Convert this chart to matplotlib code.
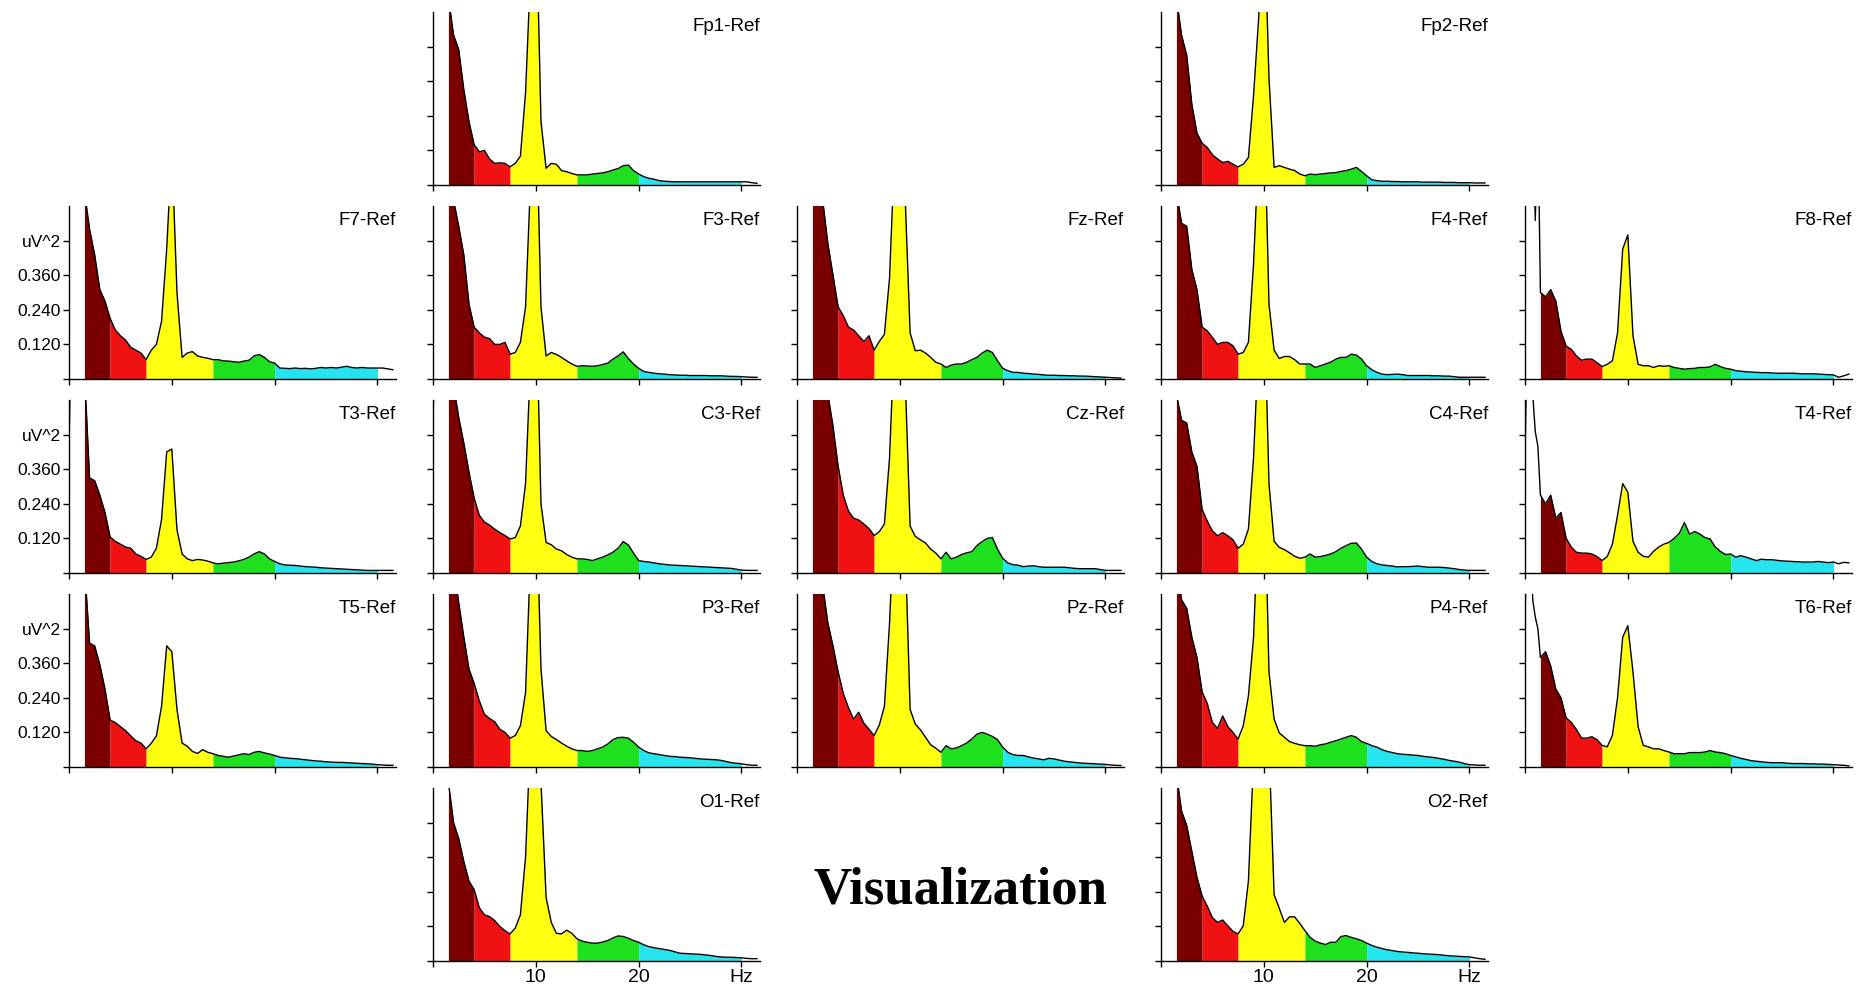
import numpy as np
import matplotlib
matplotlib.use('Agg')
import matplotlib.pyplot as plt

# espectros de potencia (uV^2), de 1.5 a 31.5 Hz em passos de 0.5 Hz
freqs = np.arange(1.5, 31.51, 0.5)
# trecho abaixo de 1.5 Hz (0, 0.25, ... 1.25 Hz); 0.9 = fora da escala
freqsIni = [0.0, 0.25, 0.5, 0.75, 1.0, 1.25]

Fp1 = [0.65, 0.52, 0.47, 0.33, 0.22, 0.14, 0.115, 0.12, 0.09, 0.075,
       0.077, 0.075, 0.063, 0.075, 0.10, 0.32, 0.75, 1.0, 0.22, 0.058,
       0.075, 0.072, 0.05, 0.046, 0.04, 0.035, 0.035, 0.035, 0.038, 0.04,
       0.042, 0.046, 0.052, 0.057, 0.067, 0.069, 0.05, 0.038, 0.029, 0.023,
       0.02, 0.015, 0.013, 0.012, 0.011, 0.011, 0.011, 0.011, 0.011, 0.011,
       0.011, 0.011, 0.011, 0.011, 0.011, 0.011, 0.011, 0.011, 0.011, 0.008,
       0.006]
Fp2 = [0.65, 0.52, 0.45, 0.28, 0.18, 0.145, 0.13, 0.105, 0.09, 0.078,
       0.082, 0.072, 0.063, 0.072, 0.095, 0.31, 0.58, 1.0, 0.37, 0.061,
       0.067, 0.061, 0.055, 0.05, 0.038, 0.032, 0.038, 0.036, 0.038, 0.04,
       0.042, 0.043, 0.047, 0.05, 0.055, 0.061, 0.047, 0.032, 0.018, 0.015,
       0.013, 0.013, 0.012, 0.012, 0.011, 0.011, 0.011, 0.011, 0.01, 0.01,
       0.01, 0.01, 0.009, 0.009, 0.009, 0.008, 0.008, 0.008, 0.007, 0.007,
       0.007]
F7 = [0.65, 0.52, 0.43, 0.31, 0.27, 0.21, 0.17, 0.15, 0.135, 0.11,
      0.10, 0.09, 0.067, 0.10, 0.12, 0.20, 0.45, 0.8, 0.30, 0.075,
      0.09, 0.095, 0.08, 0.075, 0.072, 0.067, 0.067, 0.063, 0.062, 0.06,
      0.058, 0.062, 0.065, 0.08, 0.085, 0.075, 0.06, 0.055, 0.038, 0.037,
      0.036, 0.038, 0.036, 0.037, 0.035, 0.037, 0.04, 0.038, 0.04, 0.038,
      0.041, 0.044, 0.04, 0.038, 0.04, 0.038, 0.038, 0.038, 0.038, 0.035,
      0.032]
F3 = [0.65, 0.62, 0.53, 0.43, 0.26, 0.18, 0.16, 0.145, 0.14, 0.12,
      0.12, 0.127, 0.086, 0.092, 0.127, 0.25, 0.7, 1.0, 0.25, 0.08,
      0.092, 0.085, 0.075, 0.063, 0.052, 0.044, 0.046, 0.045, 0.044, 0.046,
      0.05, 0.055, 0.069, 0.08, 0.094, 0.071, 0.052, 0.037, 0.026, 0.023,
      0.02, 0.018, 0.017, 0.015, 0.014, 0.013, 0.013, 0.012, 0.012, 0.012,
      0.012, 0.011, 0.011, 0.011, 0.01, 0.009, 0.009, 0.008, 0.007, 0.006,
      0.006]
Fz = [0.65, 0.7, 0.62, 0.47, 0.36, 0.25, 0.22, 0.18, 0.17, 0.15,
      0.13, 0.15, 0.10, 0.13, 0.155, 0.35, 0.8, 1.0, 0.65, 0.16,
      0.098, 0.10, 0.09, 0.075, 0.058, 0.052, 0.04, 0.048, 0.052, 0.052,
      0.058, 0.067, 0.075, 0.09, 0.10, 0.092, 0.063, 0.037, 0.029, 0.023,
      0.023, 0.02, 0.019, 0.017, 0.016, 0.014, 0.013, 0.013, 0.012, 0.012,
      0.011, 0.011, 0.01, 0.01, 0.009, 0.008, 0.007, 0.006, 0.005, 0.004,
      0.003]
F4 = [0.65, 0.54, 0.53, 0.38, 0.31, 0.18, 0.167, 0.144, 0.12, 0.127,
      0.127, 0.115, 0.086, 0.092, 0.127, 0.40, 0.8, 1.0, 0.26, 0.10,
      0.071, 0.078, 0.078, 0.067, 0.052, 0.052, 0.052, 0.04, 0.046, 0.052,
      0.058, 0.069, 0.075, 0.075, 0.086, 0.083, 0.069, 0.046, 0.032, 0.023,
      0.017, 0.015, 0.016, 0.017, 0.015, 0.012, 0.012, 0.012, 0.012, 0.012,
      0.011, 0.011, 0.01, 0.01, 0.008, 0.006, 0.006, 0.006, 0.006, 0.006,
      0.006]
F8 = [0.30, 0.285, 0.31, 0.27, 0.166, 0.114, 0.103, 0.08, 0.065, 0.069,
      0.069, 0.057, 0.043, 0.051, 0.063, 0.16, 0.45, 0.50, 0.15, 0.051,
      0.046, 0.046, 0.04, 0.046, 0.044, 0.046, 0.04, 0.037, 0.034, 0.036,
      0.037, 0.04, 0.04, 0.042, 0.051, 0.043, 0.037, 0.034, 0.029, 0.027,
      0.025, 0.024, 0.023, 0.022, 0.022, 0.021, 0.02, 0.02, 0.02, 0.02,
      0.019, 0.018, 0.018, 0.018, 0.017, 0.016, 0.015, 0.014, 0.006, 0.011,
      0.017]
T3 = [0.7, 0.33, 0.32, 0.27, 0.21, 0.125, 0.11, 0.10, 0.09, 0.086,
      0.066, 0.058, 0.047, 0.055, 0.086, 0.186, 0.42, 0.43, 0.15, 0.066,
      0.049, 0.043, 0.047, 0.045, 0.041, 0.035, 0.032, 0.034, 0.036, 0.038,
      0.042, 0.047, 0.055, 0.066, 0.074, 0.066, 0.049, 0.04, 0.032, 0.028,
      0.027, 0.026, 0.024, 0.022, 0.021, 0.02, 0.018, 0.017, 0.016, 0.015,
      0.014, 0.013, 0.012, 0.011, 0.01, 0.009, 0.009, 0.009, 0.009, 0.009,
      0.009]
C3 = [0.7, 0.65, 0.54, 0.45, 0.35, 0.26, 0.20, 0.177, 0.166, 0.152,
      0.14, 0.13, 0.118, 0.123, 0.163, 0.31, 0.75, 1.0, 0.24, 0.106,
      0.098, 0.083, 0.077, 0.064, 0.055, 0.049, 0.049, 0.047, 0.043, 0.049,
      0.055, 0.063, 0.072, 0.086, 0.109, 0.097, 0.069, 0.043, 0.04, 0.038,
      0.035, 0.032, 0.03, 0.028, 0.027, 0.026, 0.025, 0.024, 0.023, 0.022,
      0.021, 0.02, 0.019, 0.018, 0.017, 0.016, 0.013, 0.01, 0.009, 0.009,
      0.009]
Cz = [0.7, 0.75, 0.7, 0.62, 0.51, 0.37, 0.27, 0.215, 0.19, 0.184,
      0.17, 0.154, 0.13, 0.143, 0.17, 0.40, 0.85, 1.1, 0.7, 0.163,
      0.127, 0.115, 0.104, 0.083, 0.069, 0.049, 0.072, 0.049, 0.055, 0.064,
      0.07, 0.074, 0.095, 0.109, 0.12, 0.123, 0.083, 0.051, 0.035, 0.029,
      0.027, 0.022, 0.024, 0.025, 0.022, 0.02, 0.02, 0.02, 0.02, 0.02,
      0.018, 0.016, 0.015, 0.015, 0.015, 0.015, 0.012, 0.009, 0.009, 0.009,
      0.009]
C4 = [0.62, 0.53, 0.52, 0.42, 0.37, 0.22, 0.18, 0.146, 0.129, 0.14,
      0.129, 0.115, 0.086, 0.10, 0.152, 0.40, 0.8, 1.0, 0.31, 0.11,
      0.089, 0.081, 0.07, 0.058, 0.051, 0.055, 0.066, 0.055, 0.057, 0.061,
      0.066, 0.074, 0.086, 0.095, 0.103, 0.104, 0.083, 0.055, 0.04, 0.032,
      0.028, 0.026, 0.024, 0.021, 0.022, 0.022, 0.023, 0.024, 0.022, 0.02,
      0.02, 0.02, 0.019, 0.017, 0.015, 0.012, 0.01, 0.009, 0.009, 0.009,
      0.009]
T4 = [0.27, 0.24, 0.27, 0.19, 0.21, 0.12, 0.09, 0.072, 0.069, 0.069,
      0.066, 0.057, 0.043, 0.057, 0.10, 0.20, 0.31, 0.28, 0.11, 0.072,
      0.058, 0.055, 0.075, 0.09, 0.10, 0.106, 0.12, 0.137, 0.175, 0.135,
      0.144, 0.135, 0.123, 0.118, 0.09, 0.075, 0.064, 0.066, 0.055, 0.06,
      0.055, 0.049, 0.043, 0.048, 0.046, 0.046, 0.044, 0.042, 0.041, 0.04,
      0.039, 0.038, 0.038, 0.038, 0.04, 0.038, 0.036, 0.038, 0.032, 0.037,
      0.035]
T5 = [0.7, 0.43, 0.42, 0.355, 0.27, 0.163, 0.154, 0.14, 0.126, 0.108,
      0.091, 0.083, 0.063, 0.082, 0.108, 0.21, 0.42, 0.40, 0.20, 0.083,
      0.072, 0.054, 0.047, 0.06, 0.051, 0.046, 0.04, 0.037, 0.034, 0.038,
      0.042, 0.046, 0.043, 0.051, 0.054, 0.049, 0.045, 0.04, 0.034, 0.032,
      0.03, 0.029, 0.027, 0.025, 0.023, 0.021, 0.02, 0.018, 0.017, 0.016,
      0.016, 0.015, 0.014, 0.013, 0.012, 0.011, 0.01, 0.008, 0.007, 0.006,
      0.006]
P3 = [0.7, 0.7, 0.57, 0.45, 0.34, 0.29, 0.23, 0.183, 0.168, 0.157,
      0.131, 0.12, 0.10, 0.109, 0.143, 0.257, 0.75, 1.0, 0.34, 0.126,
      0.106, 0.095, 0.083, 0.072, 0.063, 0.057, 0.057, 0.054, 0.057, 0.063,
      0.069, 0.08, 0.095, 0.102, 0.103, 0.10, 0.086, 0.069, 0.057, 0.049,
      0.046, 0.043, 0.04, 0.037, 0.036, 0.034, 0.033, 0.032, 0.03, 0.028,
      0.027, 0.026, 0.025, 0.023, 0.019, 0.015, 0.013, 0.011, 0.008, 0.006,
      0.006]
Pz = [0.7, 0.7, 0.63, 0.50, 0.42, 0.33, 0.255, 0.206, 0.166, 0.19,
      0.152, 0.131, 0.109, 0.145, 0.21, 0.50, 0.9, 1.1, 0.8, 0.20,
      0.149, 0.129, 0.103, 0.077, 0.065, 0.051, 0.074, 0.063, 0.066, 0.074,
      0.083, 0.097, 0.114, 0.12, 0.114, 0.106, 0.095, 0.069, 0.051, 0.043,
      0.04, 0.04, 0.035, 0.031, 0.028, 0.025, 0.03, 0.028, 0.024, 0.02,
      0.018, 0.016, 0.014, 0.013, 0.012, 0.011, 0.01, 0.009, 0.007, 0.006,
      0.005]
P4 = [0.7, 0.58, 0.55, 0.45, 0.38, 0.26, 0.22, 0.154, 0.134, 0.177,
      0.14, 0.12, 0.097, 0.143, 0.246, 0.45, 0.9, 1.1, 0.33, 0.166,
      0.118, 0.103, 0.088, 0.082, 0.077, 0.074, 0.074, 0.072, 0.077, 0.08,
      0.086, 0.091, 0.097, 0.103, 0.109, 0.103, 0.088, 0.082, 0.074, 0.069,
      0.06, 0.054, 0.05, 0.046, 0.044, 0.043, 0.041, 0.04, 0.037, 0.035,
      0.033, 0.03, 0.027, 0.023, 0.02, 0.017, 0.012, 0.008, 0.007, 0.006,
      0.006]
T6 = [0.38, 0.40, 0.35, 0.27, 0.24, 0.17, 0.155, 0.13, 0.10, 0.10,
      0.105, 0.095, 0.075, 0.07, 0.11, 0.24, 0.45, 0.49, 0.33, 0.14,
      0.075, 0.07, 0.063, 0.063, 0.057, 0.052, 0.046, 0.046, 0.046, 0.05,
      0.05, 0.05, 0.052, 0.057, 0.052, 0.05, 0.046, 0.04, 0.035, 0.03,
      0.026, 0.022, 0.02, 0.018, 0.016, 0.015, 0.015, 0.015, 0.013, 0.012,
      0.012, 0.012, 0.011, 0.011, 0.01, 0.01, 0.009, 0.008, 0.007, 0.006,
      0.004]
O1 = [0.62, 0.48, 0.425, 0.345, 0.277, 0.248, 0.185, 0.16, 0.154, 0.14,
      0.12, 0.105, 0.094, 0.114, 0.16, 0.36, 0.8, 1.1, 0.62, 0.22,
      0.134, 0.096, 0.094, 0.107, 0.096, 0.077, 0.069, 0.065, 0.062, 0.062,
      0.066, 0.071, 0.08, 0.087, 0.085, 0.079, 0.071, 0.065, 0.056, 0.05,
      0.046, 0.043, 0.04, 0.037, 0.032, 0.027, 0.026, 0.025, 0.024, 0.023,
      0.021, 0.019, 0.016, 0.014, 0.013, 0.013, 0.012, 0.011, 0.009, 0.008,
      0.008]
O2 = [0.65, 0.52, 0.47, 0.38, 0.29, 0.225, 0.19, 0.15, 0.134, 0.142,
      0.122, 0.103, 0.094, 0.122, 0.277, 0.7, 1.0, 1.1, 0.75, 0.23,
      0.183, 0.134, 0.153, 0.153, 0.13, 0.105, 0.082, 0.069, 0.062, 0.057,
      0.065, 0.065, 0.085, 0.088, 0.082, 0.077, 0.071, 0.062, 0.054, 0.048,
      0.043, 0.039, 0.036, 0.033, 0.031, 0.03, 0.028, 0.027, 0.025, 0.024,
      0.023, 0.022, 0.02, 0.018, 0.017, 0.016, 0.015, 0.014, 0.011, 0.008,
      0.006]

iniPadrao = [0.9, 0.9, 0.9, 0.9, 0.9, 0.9]
iniF8 = [0.9, 0.9, 0.9, 0.9, 0.55, 0.9]
iniT3 = [0.44, 0.9, 0.9, 0.9, 0.9, 0.9]
iniT5 = [0.55, 0.9, 0.9, 0.9, 0.9, 0.9]
iniC3 = [0.52, 0.9, 0.9, 0.9, 0.9, 0.9]
iniC4 = [0.56, 0.9, 0.9, 0.9, 0.9, 0.9]
iniT4 = [0.40, 0.9, 0.9, 0.62, 0.49, 0.44]
iniT6 = [0.51, 0.9, 0.9, 0.58, 0.52, 0.48]
iniO2 = [0.57, 0.9, 0.9, 0.9, 0.9, 0.9]

# bandas: delta, teta, alfa, beta, beta alto
bandas = [(1.5, 4.0, '#7a0000'), (4.0, 7.5, '#f01212'), (7.5, 14.0, '#ffff12'),
          (14.0, 20.0, '#1ee01e'), (20.0, 30.0, '#26e4ee')]

# (linha, coluna, nome, dados, inicio)
canais = [
    (0, 1, 'Fp1-Ref', Fp1, iniPadrao), (0, 3, 'Fp2-Ref', Fp2, iniPadrao),
    (1, 0, 'F7-Ref', F7, iniPadrao), (1, 1, 'F3-Ref', F3, iniPadrao), (1, 2, 'Fz-Ref', Fz, iniPadrao),
    (1, 3, 'F4-Ref', F4, iniPadrao), (1, 4, 'F8-Ref', F8, iniF8),
    (2, 0, 'T3-Ref', T3, iniT3), (2, 1, 'C3-Ref', C3, iniC3), (2, 2, 'Cz-Ref', Cz, iniPadrao),
    (2, 3, 'C4-Ref', C4, iniC4), (2, 4, 'T4-Ref', T4, iniT4),
    (3, 0, 'T5-Ref', T5, iniT5), (3, 1, 'P3-Ref', P3, iniPadrao), (3, 2, 'Pz-Ref', Pz, iniPadrao),
    (3, 3, 'P4-Ref', P4, iniPadrao), (3, 4, 'T6-Ref', T6, iniT6),
    (4, 1, 'O1-Ref', O1, iniPadrao), (4, 3, 'O2-Ref', O2, iniO2),
]

W, H = 1857, 989
colX = [69, 433, 797, 1161, 1525]
linhaBase = [185, 379, 573, 767, 961]
larg, alt = 327, 173

fig = plt.figure(figsize=(W / 100, H / 100), dpi=100)
fonte = 'Liberation Sans'

for lin, col, nome, dados, ini in canais:
    ax = fig.add_axes([colX[col] / W, (H - linhaBase[lin]) / H, larg / W, alt / H])
    v = np.array(dados)
    for f0, f1, cor in bandas:
        m = (freqs >= f0) & (freqs <= f1)
        ax.fill_between(freqs[m], 0, v[m], color=cor, lw=0)
    fx = np.concatenate([freqsIni, freqs])
    vy = np.concatenate([ini, v])
    ax.plot(fx, vy, color='black', lw=1.0)

    ax.set_xlim(0, 31.8)
    ax.set_ylim(0, 0.6)
    for s in ['top', 'right']:
        ax.spines[s].set_visible(False)
    for s in ['left', 'bottom']:
        ax.spines[s].set_linewidth(1.0)
    ax.set_xticks([0, 10, 20, 30])
    ax.set_yticks([0, 0.12, 0.24, 0.36, 0.48])
    ax.tick_params(direction='out', length=4, width=1.0, pad=2)

    if col == 0:
        ax.set_yticklabels(['', '0.120', '0.240', '0.360', 'uV^2'], fontsize=12.5, family=fonte)
    else:
        ax.set_yticklabels([])
    if lin == 4:
        ax.set_xticklabels(['', '10', '20', 'Hz'], fontsize=14, family=fonte)
    else:
        ax.set_xticklabels([])

    ax.text(1.0, 0.965, nome, transform=ax.transAxes, ha='right', va='top',
            fontsize=13.5, family=fonte)

fig.text(960 / W, 1 - 891 / H, 'Visualization', ha='center', va='center',
         fontsize=38, fontweight='bold', family='Liberation Serif')

fig.savefig('out.png', dpi=100)
